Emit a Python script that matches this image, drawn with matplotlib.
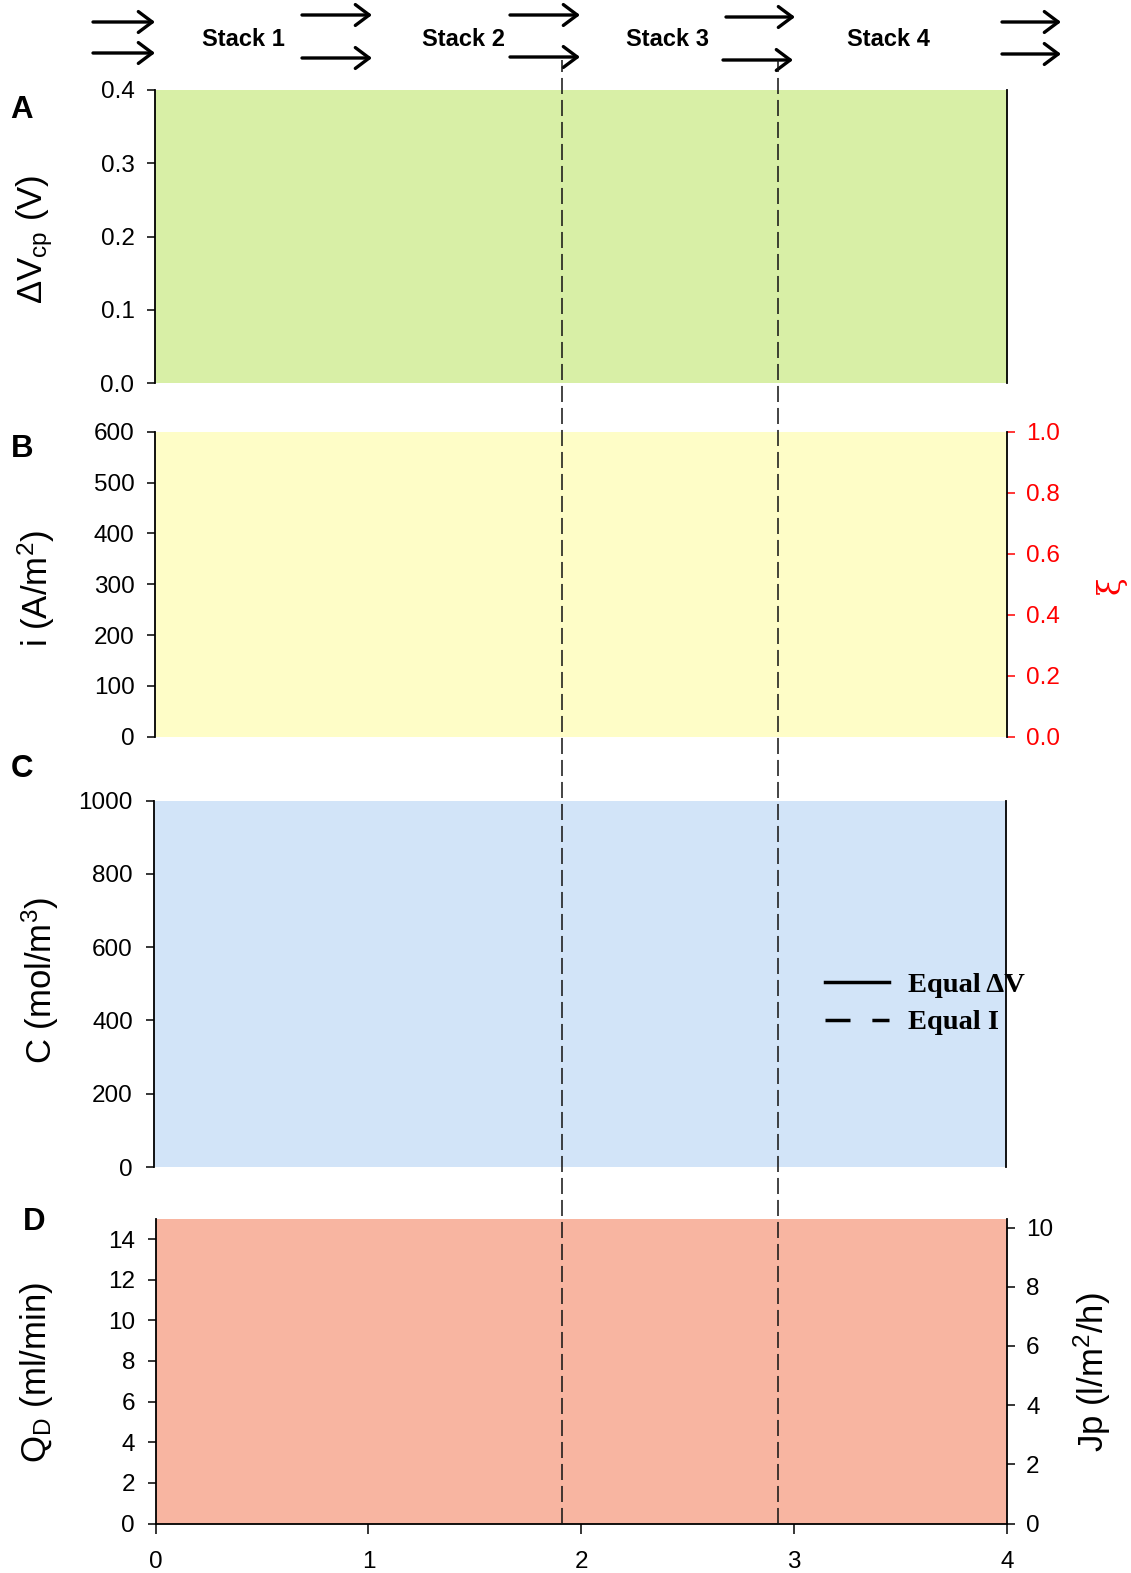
import matplotlib
matplotlib.use('Agg')
import matplotlib.pyplot as plt
from matplotlib.lines import Line2D
from matplotlib.patches import FancyArrowPatch
from matplotlib.ticker import FormatStrFormatter
import matplotlib.transforms as mtransforms

plt.rcParams['font.family'] = ['Liberation Sans', 'DejaVu Sans']
plt.rcParams['mathtext.fontset'] = 'custom'
plt.rcParams['mathtext.rm'] = 'Liberation Sans'
plt.rcParams['mathtext.it'] = 'Liberation Sans:italic'
plt.rcParams['mathtext.bf'] = 'Liberation Sans:bold'

# ---------------- data ----------------
x_span = [0.0, 4.0]
dv_top = [0.4, 0.4]
i_top = [600, 600]
c_top = [1000, 1000]
qd_top = [15, 15]
stack_switch_x = [1.911, 2.922]
stack_labels = ['Stack 1', 'Stack 2', 'Stack 3', 'Stack 4']
dv_ticks = [0.0, 0.1, 0.2, 0.3, 0.4]
i_ticks = [0, 100, 200, 300, 400, 500, 600]
xi_ticks = [0.0, 0.2, 0.4, 0.6, 0.8, 1.0]
c_ticks = [0, 200, 400, 600, 800, 1000]
qd_ticks = [0, 2, 4, 6, 8, 10, 12, 14]
jp_ticks = [0, 2, 4, 6, 8, 10]
x_ticks = [0, 1, 2, 3, 4]
legend_labels = ['Equal ΔV', 'Equal I']

# ---------------- layout ----------------
W, H = 1131, 1573
fig = plt.figure(figsize=(W / 100, H / 100), dpi=100)


def rect(l, t, r, b):
    return [l / W, 1 - b / H, (r - l) / W, (b - t) / H]


def fx(px):
    return px / W


def fy(py):
    return 1 - py / H


TICK_FS = 17.5
LABEL_FS = 25
SPINE_LW = 1.3


def style(ax, bottom=False):
    ax.set_xlim(0, 4)
    ax.spines['top'].set_visible(False)
    ax.spines['bottom'].set_visible(bottom)
    for s in ax.spines.values():
        s.set_linewidth(SPINE_LW)
    ax.tick_params(axis='y', direction='out', length=5.8, width=1.1,
                   labelsize=TICK_FS, pad=9)
    if bottom:
        ax.set_xticks(x_ticks)
        ax.tick_params(axis='x', direction='out', length=7, width=1.1,
                       labelsize=TICK_FS, pad=13)
    else:
        ax.tick_params(axis='x', bottom=False, labelbottom=False)


axA = fig.add_axes(rect(155, 90, 1007, 383))
axB = fig.add_axes(rect(155, 431.7, 1007, 736.7))
axC = fig.add_axes(rect(153.5, 800.5, 1005.7, 1167))
axD = fig.add_axes(rect(155.5, 1218.7, 1007, 1523.5))

# Panel A
style(axA)
axA.fill_between(x_span, 0, dv_top, color='#D8EFA6', lw=0)
axA.set_ylim(0, 0.4)
axA.set_yticks(dv_ticks)
axA.yaxis.set_major_formatter(FormatStrFormatter('%.1f'))

# Panel B
style(axB)
axB.fill_between(x_span, 0, i_top, color='#FEFDC7', lw=0)
axB.set_ylim(0, 600)
axB.set_yticks(i_ticks)
axB.spines['right'].set_visible(False)
axB2 = axB.twinx()
axB2.set_ylim(0, 1.0)
axB2.set_yticks(xi_ticks)
axB2.yaxis.set_major_formatter(FormatStrFormatter('%.1f'))
for s in ['top', 'bottom', 'left']:
    axB2.spines[s].set_visible(False)
axB2.spines['right'].set_linewidth(SPINE_LW)
axB2.tick_params(axis='y', direction='out', length=5.8, width=1.1,
                 labelsize=TICK_FS, pad=8, colors='#FF0000')

# Panel C
style(axC)
axC.fill_between(x_span, 0, c_top, color='#D2E4F8', lw=0)
axC.set_ylim(0, 1000)
axC.set_yticks(c_ticks)
handles = [Line2D([], [], color='black', lw=2.5),
           Line2D([], [], color='black', lw=2.5, linestyle=(0, (7.2, 6.3)))]
axC.legend(handles, legend_labels, loc='upper left',
           bbox_to_anchor=(0.788, 0.533), frameon=False, borderpad=0,
           borderaxespad=0, handlelength=2.25, handletextpad=0.67,
           labelspacing=0.42,
           prop={'family': 'Liberation Serif', 'weight': 'bold', 'size': 20.5})

# Panel D
style(axD, bottom=True)
axD.fill_between(x_span, 0, qd_top, color='#F8B5A1', lw=0)
axD.set_ylim(0, 15)
axD.set_yticks(qd_ticks)
axD.spines['right'].set_visible(False)
axD2 = axD.twinx()
axD2.set_ylim(0, 10.3)
axD2.set_yticks(jp_ticks)
for s in ['top', 'bottom', 'left']:
    axD2.spines[s].set_visible(False)
axD2.spines['right'].set_linewidth(SPINE_LW)
axD2.tick_params(axis='y', direction='out', length=5.8, width=1.1,
                 labelsize=TICK_FS, pad=8)

# right spines for A and C without ticks
for ax in (axA, axC):
    ax.spines['right'].set_visible(True)
    ax.tick_params(axis='y', right=False)

# ---------------- axis labels ----------------
fig.text(fx(35), fy(239), 'ΔV$_{\\mathrm{cp}}$ (V)', rotation=90,
         ha='center', va='center', fontsize=LABEL_FS)
fig.text(fx(36), fy(588), 'i (A/m$^{2}$)', rotation=90,
         ha='center', va='center', fontsize=LABEL_FS)
fig.text(fx(40), fy(980), 'C (mol/m$^{3}$)', rotation=90,
         ha='center', va='center', fontsize=LABEL_FS)
fig.text(fx(37), fy(1373), 'Q$_{\\mathrm{D}}$ (ml/min)', rotation=90,
         ha='center', va='center', fontsize=LABEL_FS)
fig.text(fx(1111), fy(585), 'ξ', rotation=90, ha='center', va='center',
         fontsize=23, color='#FF0000', family=['DejaVu Serif'])
fig.text(fx(1092), fy(1372), 'Jp (l/m$^{2}$/h)', rotation=90,
         ha='center', va='center', fontsize=LABEL_FS)

# panel letters
for letter, (px, py) in zip('ABCD', [(22, 110), (22, 449), (22, 769), (34, 1222)]):
    fig.text(fx(px), fy(py), letter, ha='center', va='center',
             fontsize=22.5, fontweight='bold')

# stack labels
for lab, px in zip(stack_labels, [243, 463, 668, 888]):
    fig.text(fx(px), fy(40), lab, ha='center', va='center',
             fontsize=17, fontweight='bold')

# arrows (pixel positions: x_start, x_end, y)
arrow_px = [(93, 155, 22), (93, 155, 53),
            (302, 372, 15), (302, 372, 58),
            (510, 580, 15), (510, 580, 57),
            (726, 795, 17), (723, 793, 60),
            (1002, 1061, 22), (1002, 1061, 54)]
for x0, x1, y in arrow_px:
    fig.add_artist(FancyArrowPatch((fx(x0), fy(y)), (fx(x1), fy(y)),
                                   transform=fig.transFigure,
                                   arrowstyle='->,head_length=1.0,head_width=0.75',
                                   mutation_scale=10, lw=2.4, color='black',
                                   shrinkA=0, shrinkB=0))

# dashed vertical separators spanning all panels
blend = mtransforms.blended_transform_factory(axD.transData, fig.transFigure)
for xv in stack_switch_x:
    fig.add_artist(Line2D([xv, xv], [fy(1523.5), fy(60)], transform=blend,
                          color='#111111', lw=1.1,
                          linestyle=(0, (10.5, 3.9)), zorder=10))

fig.savefig('out.png', dpi=100)
